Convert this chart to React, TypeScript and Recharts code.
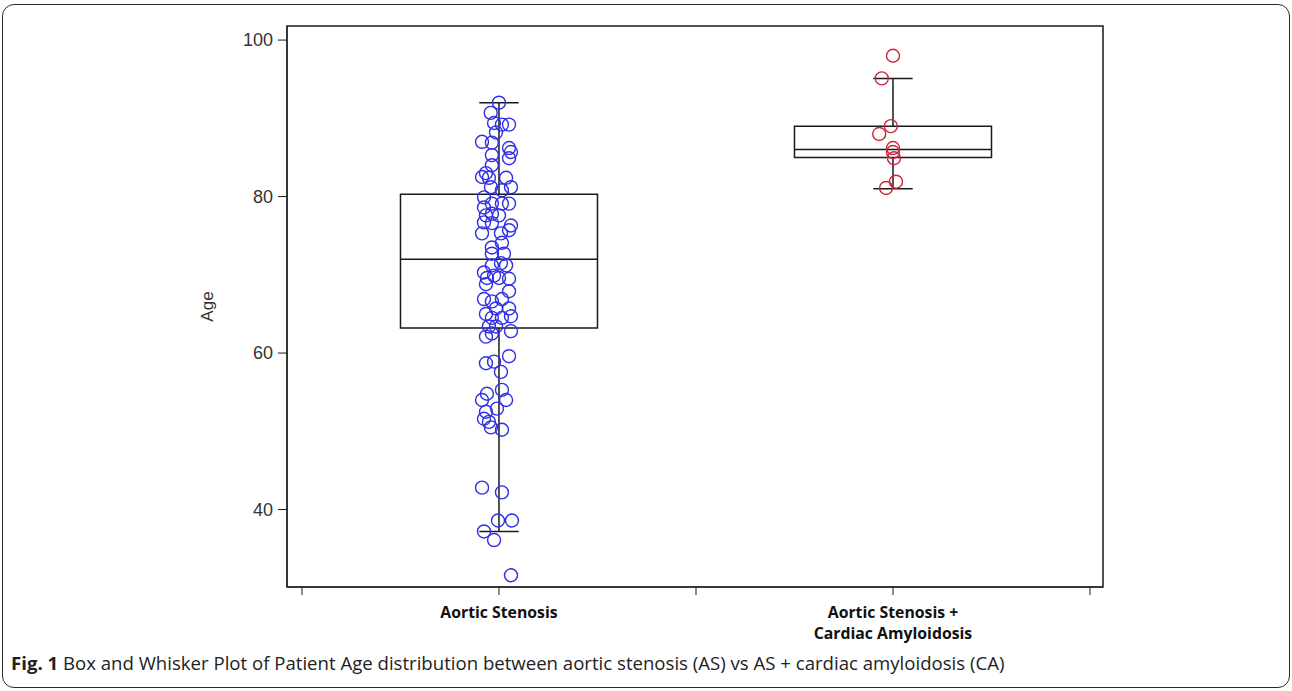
import {
  ReferenceArea,
  ReferenceLine,
  Scatter,
  ScatterChart,
  XAxis,
  YAxis,
} from 'recharts';

// groups on the x axis (numeric positions, ticks at 0..4)
const groupNames = ['Aortic Stenosis', 'Aortic Stenosis +\nCardiac Amyloidosis'];
const groupPositions = [1, 3];
const xTicks = [0, 1, 2, 3, 4];
const yTicks = [40, 60, 80, 100];

// box statistics per group
const q1 = [63.2, 85.0];
const medians = [72.0, 86.0];
const q3 = [80.3, 89.0];
const whiskerLow = [37.2, 81.0];
const whiskerHigh = [92.0, 95.1];

// Aortic Stenosis ages and horizontal jitter
const asAges = [
  92.0, 90.7, 89.4, 89.2, 89.2, 88.2, 87.0, 86.9, 86.2, 85.7, 84.9, 85.3, 84.0, 83.0,
  82.5, 82.4, 82.4, 81.2, 81.2, 80.8, 79.9, 79.1, 79.1, 78.6, 79.1, 77.6, 77.8, 77.6,
  76.3, 76.7, 76.6, 75.7, 75.3, 75.3, 74.1, 73.5, 72.7, 72.7, 71.5, 71.2, 71.2, 70.3,
  69.6, 69.9, 69.6, 69.5, 68.8, 67.9, 66.9, 66.6, 66.9, 65.7, 65.7, 65.0, 64.7, 64.5,
  64.5, 63.4, 63.4, 62.8, 62.1, 62.5, 59.6, 58.7, 58.9, 57.6, 55.3, 54.8, 54.0, 54.0,
  52.9, 52.5, 51.6, 51.2, 50.2, 50.5, 42.8, 42.2, 38.6, 38.6, 37.2, 36.1, 31.6,
];
const asJitter = [
  0.0, -0.042, -0.025, 0.051, 0.015, -0.015, -0.086, -0.036, 0.051, 0.061, 0.051, -0.036,
  -0.036, -0.066, -0.086, -0.051, 0.036, -0.041, 0.061, 0.015, -0.076, -0.036, 0.051,
  -0.076, 0.015, -0.066, -0.036, 0.0, 0.061, -0.076, -0.036, 0.051, -0.086, 0.01, 0.015,
  -0.036, -0.036, 0.025, 0.01, -0.036, 0.036, -0.076, -0.061, -0.025, 0.0, 0.051, -0.066,
  0.051, -0.076, -0.036, 0.015, -0.015, 0.051, -0.066, 0.061, -0.036, 0.015, -0.051,
  -0.015, 0.061, -0.066, -0.036, 0.051, -0.066, -0.025, 0.01, 0.015, -0.061, 0.036,
  -0.086, -0.01, -0.066, -0.076, -0.051, 0.015, -0.041, -0.086, 0.015, -0.005, 0.066,
  -0.076, -0.025, 0.061,
];

// Aortic Stenosis + Cardiac Amyloidosis ages and jitter
const caAges = [98.0, 95.1, 89.0, 88.0, 86.2, 85.7, 84.9, 81.9, 81.1];
const caJitter = [0.0, -0.057, -0.011, -0.07, 0.0, 0.0, 0.005, 0.015, -0.035];

const asPoints = asAges.map((age, i) => ({ x: groupPositions[0] + asJitter[i], y: age }));
const caPoints = caAges.map((age, i) => ({ x: groupPositions[1] + caJitter[i], y: age }));

const xDomain: [number, number] = [-0.076, 4.066];
const yDomain: [number, number] = [30.1, 101.8];

const LINE = '#1a1a1a';

function ringShape(color: string) {
  return (props: any) => (
    <circle cx={props.cx} cy={props.cy} r={6.5} fill="none" stroke={color} strokeWidth={1.4} />
  );
}

function GroupTick(props: any) {
  const { x, y, payload } = props;
  const idx = groupPositions.indexOf(payload.value);
  if (idx < 0) return null;
  const lines = groupNames[idx].split('\n');
  return (
    <text
      x={x}
      y={y}
      textAnchor="middle"
      fontFamily="'Open Sans', Lato, sans-serif"
      fontWeight={700}
      fontSize={15.8}
      fill="#111"
    >
      {lines.map((line, i) => (
        <tspan key={line} x={x} dy={i === 0 ? 21 : 21}>
          {line}
        </tspan>
      ))}
    </text>
  );
}

export default function App() {
  return (
    <div
      style={{
        position: 'absolute',
        left: 0,
        top: 0,
        width: 1292,
        height: 691,
        background: '#fff',
        overflow: 'hidden',
      }}
    >
      <div
        style={{
          position: 'absolute',
          left: 2,
          top: 4,
          width: 1286,
          height: 682,
          border: '1.5px solid #2a2a2a',
          borderRadius: 12,
        }}
      />
      <div style={{ position: 'absolute', left: 0, top: 0 }}>
        <ScatterChart
          width={1292}
          height={691}
          margin={{ top: 26, right: 189, bottom: 74, left: 247 }}
        >
          <XAxis
            type="number"
            dataKey="x"
            domain={xDomain}
            ticks={xTicks}
            allowDataOverflow
            height={30}
            tickSize={8}
            stroke={LINE}
            tickLine={{ stroke: LINE }}
            tick={<GroupTick />}
            interval={0}
          />
          <YAxis
            type="number"
            dataKey="y"
            domain={yDomain}
            ticks={yTicks}
            allowDataOverflow
            width={40}
            tickSize={9}
            tickMargin={5}
            stroke={LINE}
            tick={{ fontFamily: "'Liberation Sans', Arial, sans-serif", fontSize: 18, fill: '#333' }}
            label={{
              value: 'Age',
              content: ({ viewBox }: any) => {
                const cx = viewBox.x - 34;
                const cy = viewBox.y + viewBox.height / 2;
                return (
                  <text
                    x={cx}
                    y={cy}
                    transform={`rotate(-90, ${cx}, ${cy})`}
                    textAnchor="middle"
                    fontFamily="'Liberation Sans', Arial, sans-serif"
                    fontSize={17}
                    fill="#333"
                  >
                    Age
                  </text>
                );
              },
            }}
          />
          {/* plot frame */}
          <ReferenceArea
            x1={xDomain[0]}
            x2={xDomain[1]}
            y1={yDomain[0]}
            y2={yDomain[1]}
            fill="none"
            stroke={LINE}
            strokeWidth={1.5}
            ifOverflow="visible"
          />
          {groupPositions.map((pos, i) => (
            <ReferenceArea
              key={`box-${pos}`}
              x1={pos - 0.5}
              x2={pos + 0.5}
              y1={q1[i]}
              y2={q3[i]}
              fill="none"
              stroke={LINE}
              strokeWidth={1.5}
              ifOverflow="visible"
            />
          ))}
          {groupPositions.map((pos, i) => (
            <ReferenceLine
              key={`med-${pos}`}
              segment={[
                { x: pos - 0.5, y: medians[i] },
                { x: pos + 0.5, y: medians[i] },
              ]}
              stroke={LINE}
              strokeWidth={1.5}
              ifOverflow="visible"
            />
          ))}
          {groupPositions.map((pos, i) => (
            <ReferenceLine
              key={`wu-${pos}`}
              segment={[
                { x: pos, y: q3[i] },
                { x: pos, y: whiskerHigh[i] },
              ]}
              stroke={LINE}
              strokeWidth={1.5}
              ifOverflow="visible"
            />
          ))}
          {groupPositions.map((pos, i) => (
            <ReferenceLine
              key={`wl-${pos}`}
              segment={[
                { x: pos, y: q1[i] },
                { x: pos, y: whiskerLow[i] },
              ]}
              stroke={LINE}
              strokeWidth={1.5}
              ifOverflow="visible"
            />
          ))}
          {groupPositions.map((pos, i) => (
            <ReferenceLine
              key={`cu-${pos}`}
              segment={[
                { x: pos - 0.1, y: whiskerHigh[i] },
                { x: pos + 0.1, y: whiskerHigh[i] },
              ]}
              stroke={LINE}
              strokeWidth={1.5}
              ifOverflow="visible"
            />
          ))}
          {groupPositions.map((pos, i) => (
            <ReferenceLine
              key={`cl-${pos}`}
              segment={[
                { x: pos - 0.1, y: whiskerLow[i] },
                { x: pos + 0.1, y: whiskerLow[i] },
              ]}
              stroke={LINE}
              strokeWidth={1.5}
              ifOverflow="visible"
            />
          ))}
          <Scatter
            data={asPoints}
            shape={ringShape('#2f2fe6')}
            isAnimationActive={false}
          />
          <Scatter
            data={caPoints}
            shape={ringShape('#c8283c')}
            isAnimationActive={false}
          />
        </ScatterChart>
      </div>
      <div
        style={{
          position: 'absolute',
          left: 11,
          top: 651,
          fontFamily: "'Open Sans', Lato, sans-serif",
          fontSize: 18.6,
          lineHeight: '24px',
          color: '#222',
          whiteSpace: 'nowrap',
        }}
      >
        <b>Fig. 1</b> Box and Whisker Plot of Patient Age distribution between aortic stenosis (AS)
        vs AS + cardiac amyloidosis (CA)
      </div>
    </div>
  );
}
